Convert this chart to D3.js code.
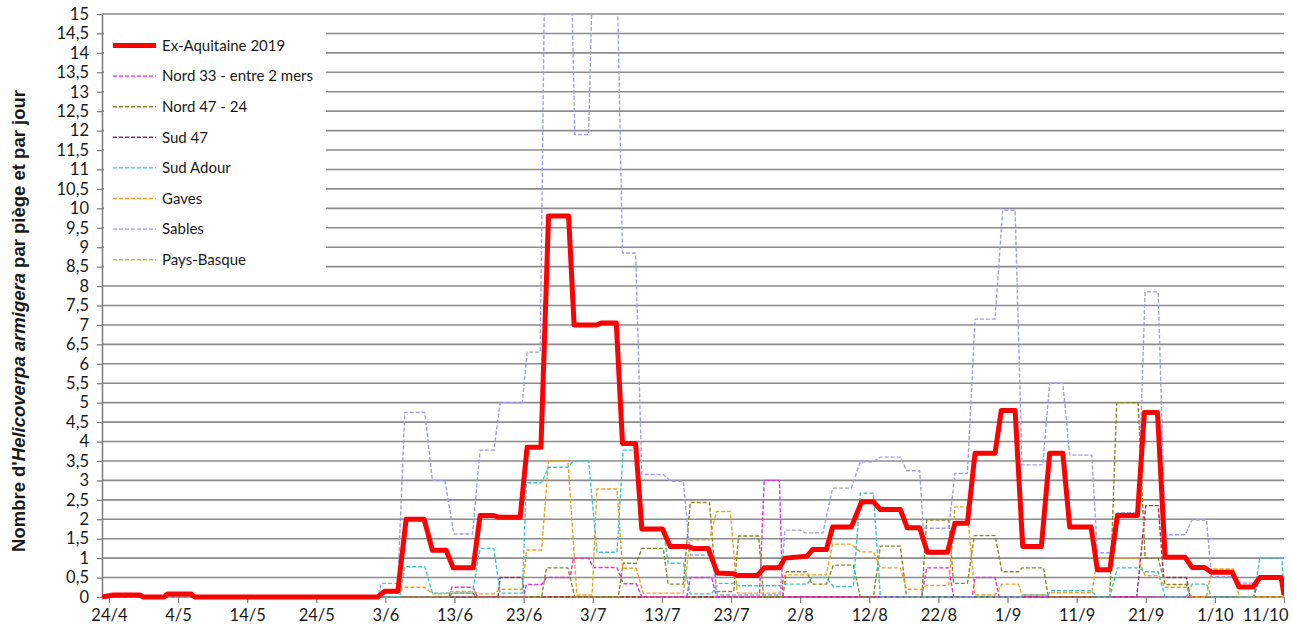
<!DOCTYPE html>
<meta charset="utf-8">
<style>

  body {
    margin: 0;
    background: #fff;
  }

  text {
    font-family: Lato, "Open Sans", sans-serif;
    fill: #1a1a1a;
  }

  .grid line {
    stroke: #8c8c8c;
    stroke-width: 1.6px;
  }

  .series {
    fill: none;
    stroke-width: 1.4px;
    stroke-dasharray: 4 2;
    stroke-linejoin: round;
  }

  .main {
    fill: none;
    stroke: #ff0000;
    stroke-width: 5px;
    stroke-linejoin: round;
  }

</style>
<body>
<script src="https://d3js.org/d3.v7.min.js"></script>
<script>

// x values are days counted from 24/4
var xTickDays = [0, 10, 20, 30, 40, 50, 60, 70, 80, 90, 100, 110, 120, 130, 140, 150, 160, 170];
var xTickLabels = ["24/4", "4/5", "14/5", "24/5", "3/6", "13/6", "23/6", "3/7", "13/7", "23/7",
                   "2/8", "12/8", "22/8", "1/9", "11/9", "21/9", "1/10", "11/10"];
var yTickValues = [0, 0.5, 1, 1.5, 2, 2.5, 3, 3.5, 4, 4.5, 5, 5.5, 6, 6.5, 7, 7.5,
                   8, 8.5, 9, 9.5, 10, 10.5, 11, 11.5, 12, 12.5, 13, 13.5, 14, 14.5, 15];

var seriesNames = ["Ex-Aquitaine 2019", "Nord 33 - entre 2 mers", "Nord 47 - 24", "Sud 47",
                   "Sud Adour", "Gaves", "Sables", "Pays-Basque"];

var exAquitaine = [[-1,0],[0.6,0.05],[4.5,0.05],[5,0],[8,0],[8.5,0.08],[11.9,0.08],[12.4,0],
  [38.9,0],[39.9,0.15],[41.8,0.15],[43,2.0],[45.6,2.0],[46.8,1.2],[48.8,1.2],[49.8,0.75],
  [52.7,0.75],[53.7,2.1],[55.6,2.1],[56.5,2.05],[59.5,2.05],[60.5,3.85],[62.5,3.85],[63.6,9.8],
  [66.5,9.8],[67.3,7.0],[70.6,7.0],[71.2,7.05],[73.4,7.05],[74.3,3.95],[76.2,3.95],[77.1,1.75],
  [80.1,1.75],[81.2,1.3],[83.8,1.3],[84.5,1.25],[86.7,1.25],[88,0.62],[90.4,0.6],[90.9,0.55],
  [93.8,0.55],[94.8,0.75],[97,0.75],[97.8,1.0],[101,1.05],[101.8,1.22],[103.8,1.22],
  [104.7,1.8],[107.4,1.8],[108.9,2.45],[110.6,2.45],[111.6,2.25],[114.5,2.25],[115.5,1.78],
  [117.3,1.78],[118.4,1.15],[121.3,1.15],[122.4,1.9],[124.2,1.9],[125.3,3.7],[128.2,3.7],
  [129.1,4.8],[131.1,4.8],[132.2,1.3],[134.9,1.3],[136.1,3.7],[138,3.7],[139,1.8],
  [142.1,1.8],[143,0.7],[144.8,0.7],[145.9,2.1],[148.8,2.1],[149.8,4.75],[151.7,4.75],
  [152.8,1.02],[155.7,1.02],[156.7,0.76],[158.5,0.76],[159.5,0.64],[162.5,0.64],[163.5,0.26],
  [165.5,0.26],[166.5,0.5],[169.6,0.5],[170,0.05]];

var nord33 = [[-1,0],[49.2,0],[49.6,0.25],[52.7,0.25],[53.3,0],[60,0],[60.4,0.32],[62.6,0.32],
  [63.3,0.5],[66.7,0.5],[67.2,1.0],[69.4,1.0],[70.1,0.76],[73.5,0.76],[74.4,0.34],[76.3,0.34],
  [77.1,0],[83.6,0],[84.1,0.5],[87.2,0.5],[87.9,0],[94.1,0],[94.8,3.0],[97,3.0],[97.5,0],
  [117.6,0],[118.3,0.75],[121.5,0.75],[122.2,0],[124.9,0],[125.3,0.5],[128.2,0.5],[128.8,0],
  [170,0]];

var nord47 = [[-1,0],[49.2,0],[49.7,0.1],[52.7,0.1],[53.1,0],[62.6,0],[63.3,0.75],[66.4,0.75],
  [67.4,0],[73.7,0],[74.4,0.87],[76.3,0.87],[77.1,1.25],[80.2,1.25],[80.9,0.33],[83.1,0.33],
  [84.1,2.43],[86.9,2.43],[87.9,0.14],[90.4,0.14],[91.1,1.57],[94,1.57],[94.7,0],[97.5,0],
  [98,0.65],[101,0.65],[101.7,0.33],[103.8,0.33],[104.8,0.82],[107.7,0.82],[108.7,0],
  [110.6,0],[111.6,1.31],[114.5,1.31],[115.4,0],[117.6,0],[118.3,1.98],[121.5,1.98],
  [122.2,0.35],[124.2,0.35],[125.2,1.58],[128.2,1.58],[129.2,0.65],[131.6,0.65],[132.1,0.75],
  [135.2,0.75],[135.9,0],[144.8,0],[145.8,5.0],[148.9,5.0],[149.9,1.0],[151.8,1.0],
  [152.8,0.32],[155.9,0.32],[156.4,0],[170,0]];

var sud47 = [[-1,0],[56.3,0],[56.6,0.5],[59.8,0.5],[60.2,0],[148.7,0],[150,2.35],[151.8,2.35],
  [152.6,0.5],[155.9,0.5],[156.4,0],[165.6,0],[166.5,0.5],[169.7,0.5],[170,0]];

var sudAdour = [[-1,0],[42.1,0],[42.8,0.78],[45.7,0.78],[46.8,0.1],[52.6,0.1],[53.7,1.25],
  [55.7,1.25],[56.6,0.1],[59.8,0.1],[60.4,2.94],[62.6,2.94],[63.6,3.34],[66.4,3.34],
  [67.2,3.5],[69.4,3.5],[70.6,1.15],[73.5,1.15],[74.4,3.78],[76.1,3.78],[77.1,1.75],
  [80.2,1.75],[80.9,0.87],[83.1,0.87],[84.1,0.08],[87.2,0.08],[88.2,0.35],[90.4,0.35],
  [91.1,0.29],[97.1,0.29],[98,0.33],[101,0.33],[101.7,0.5],[103.8,0.5],[104.8,0.27],
  [107.7,0.27],[108.7,2.67],[110.6,2.67],[111.6,0],[131.9,0],[132.2,0.05],[135.9,0.05],
  [136.2,0.16],[142.1,0.16],[143,0],[144.8,0],[145.9,0.75],[148.9,0.75],[149.9,0.65],
  [151.8,0.65],[152.8,0],[155.9,0],[156.7,0.33],[158.8,0.33],[159.5,0],[165.6,0],
  [166.5,1.0],[169.7,1.0],[170,0]];

var gaves = [[-1,0],[20.7,0],[21.2,0.03],[24.6,0.03],[25.1,0],[38.9,0],[39.9,0.1],[41.8,0.1],
  [42.8,0.25],[45.7,0.25],[46.8,0.08],[48.6,0.08],[49.6,0.14],[52.8,0.14],[53.7,0.08],
  [55.7,0.08],[56.6,0.2],[59.8,0.2],[60.4,1.21],[62.6,1.21],[63.6,3.5],[66.4,3.5],
  [67.7,0.05],[69.9,0.05],[70.6,2.78],[73.5,2.78],[74.3,0.74],[76.3,0.74],[77.3,0.1],
  [83.1,0.1],[84.1,1.47],[86.9,1.47],[87.9,2.2],[89.9,2.2],[90.9,0.1],[97.1,0.1],
  [97.8,0.57],[103.8,0.57],[104.7,1.36],[107.4,1.36],[108.7,1.16],[110.6,1.16],
  [111.6,0.75],[114.5,0.75],[115.4,0.2],[117.6,0.2],[118.3,0.3],[121.5,0.3],[122.4,2.32],
  [124.1,2.32],[125.3,0.05],[128.2,0.05],[129.2,0.33],[131.6,0.33],[132.1,0.05],[135.7,0.05],
  [136.2,0.11],[142.2,0.11],[143,1.0],[148.9,1.0],[149.9,0.55],[151.8,0.55],[152.8,0.25],
  [155.9,0.25],[156.7,0],[158.8,0],[159.5,0.72],[162.7,0.72],[163.5,0],[170,0]];

var sables = [[-1,0],[8.5,0],[9,0.1],[11.9,0.1],[12.4,0],[38.9,0],[39.4,0.35],[41.8,0.35],
  [42.8,4.75],[45.7,4.75],[46.8,3.0],[48.6,3.0],[49.9,1.62],[52.6,1.62],[53.7,3.78],
  [55.7,3.78],[56.6,5.0],[59.8,5.0],[60.5,6.3],[62.4,6.3],[63.1,17],[66.8,17],[67.4,11.9],
  [69.4,11.9],[70.1,17],[73.4,17],[74.3,8.85],[76.2,8.85],[77.1,3.15],[80.2,3.15],
  [81.3,2.98],[83.1,2.98],[84.1,1.08],[87.2,1.08],[88,0.05],[97.1,0.05],[97.8,1.72],
  [100,1.72],[100.7,1.65],[103.3,1.65],[104.7,2.8],[107.4,2.8],[108.7,3.48],[110.6,3.48],
  [111.6,3.6],[114.5,3.6],[115.4,3.25],[117.3,3.25],[117.8,1.77],[121.5,1.77],[122.4,3.18],
  [124.2,3.18],[125.3,7.15],[128.2,7.15],[129.3,9.95],[131.1,9.95],[132.1,3.4],[135.1,3.4],
  [136.1,5.5],[138,5.5],[139,3.65],[142.2,3.65],[143,1.14],[144.8,1.14],[145.9,2.17],
  [148.9,2.17],[149.9,7.85],[151.8,7.85],[152.8,1.6],[155.7,1.6],[156.7,1.98],[158.8,1.98],
  [159.5,0.52],[162.5,0.52],[163.5,0.36],[165.5,0.36],[166.5,0.5],[169.7,0.5],[170,0.05]];

var paysBasque = [[-1,0],[170,0]];

var seriesValues = [exAquitaine, nord33, nord47, sud47, sudAdour, gaves, sables, paysBasque];

var colors = ["#ff0000", "#e62ee6", "#8a8a22", "#a32a5c", "#3cc8c8", "#f5a01e", "#9e9ef0", "#b4c040"];

var width = 1292,
    height = 632;

var plot = {left: 102, right: 1284, top: 14, bottom: 597};

var svg = d3.select("body").append("svg")
  .attr("width", width)
  .attr("height", height);

var x = d3.scaleLinear()
  .domain([-1, 170])
  .range([plot.left, plot.right]);

var y = d3.scaleLinear()
  .domain([0, 15])
  .range([plot.bottom, plot.top]);

var fmt = function(v) { return String(v).replace(".", ","); };

// horizontal grid
svg.append("g")
  .attr("class", "grid")
  .selectAll("line")
  .data(yTickValues)
  .enter()
  .append("line")
    .attr("x1", plot.left)
    .attr("x2", plot.right)
    .attr("y1", function(d) { return y(d); })
    .attr("y2", function(d) { return y(d); });

// y axis
var yAxis = d3.axisLeft(y)
  .tickValues(yTickValues)
  .tickFormat(fmt)
  .tickSizeInner(5)
  .tickSizeOuter(0)
  .tickPadding(8);

var gy = svg.append("g")
  .attr("transform", "translate(" + plot.left + ",0)")
  .call(yAxis);

gy.select(".domain").attr("stroke", "#7a7a7a").attr("stroke-width", 1.5);
gy.selectAll(".tick line").attr("stroke", "#7a7a7a").attr("stroke-width", 1.2);
gy.selectAll(".tick text")
  .style("font-size", "16.5px")
  .attr("fill", "#1a1a1a");

// x axis
var xAxis = d3.axisBottom(x)
  .tickValues(xTickDays)
  .tickFormat(function(d, i) { return xTickLabels[i]; })
  .tickSizeInner(6)
  .tickSizeOuter(0)
  .tickPadding(6);

var gx = svg.append("g")
  .attr("transform", "translate(0," + plot.bottom + ")")
  .call(xAxis);

gx.select(".domain").attr("d", "M" + plot.left + ",0H" + plot.right)
  .attr("stroke", "#7a7a7a").attr("stroke-width", 1.5);
gx.selectAll(".tick line").attr("stroke", "#7a7a7a").attr("stroke-width", 1.2);
gx.selectAll(".tick text")
  .style("font-size", "16.5px")
  .attr("fill", "#1a1a1a");

// last label is pushed inside the frame, as the spreadsheet does
gx.selectAll(".tick text")
  .filter(function(d, i) { return i === xTickDays.length - 1; })
  .attr("text-anchor", "end")
  .attr("x", 4);

// lines
svg.append("clipPath")
  .attr("id", "clip")
  .append("rect")
    .attr("x", plot.left)
    .attr("y", plot.top)
    .attr("width", plot.right - plot.left)
    .attr("height", plot.bottom - plot.top + 4);

var line = d3.line()
  .x(function(d) { return x(d[0]); })
  .y(function(d) { return y(d[1]); });

var lines = svg.append("g").attr("clip-path", "url(#clip)");

var order = [7, 3, 1, 2, 5, 4, 6];

lines.selectAll("path.series")
  .data(order)
  .enter()
  .append("path")
    .attr("class", "series")
    .attr("stroke", function(i) { return colors[i]; })
    .attr("d", function(i) { return line(seriesValues[i]); });

lines.append("path")
  .attr("class", "main")
  .attr("d", line(seriesValues[0]));

// legend
var legend = svg.append("g");

legend.append("rect")
  .attr("x", 104)
  .attr("y", 19)
  .attr("width", 222)
  .attr("height", 260)
  .attr("fill", "#fff");

var entry = legend.selectAll("g.entry")
  .data(seriesNames)
  .enter()
  .append("g")
    .attr("class", "entry")
    .attr("transform", function(d, i) { return "translate(113," + (45.5 + i * 30.6) + ")"; });

entry.append("line")
  .attr("x1", 0)
  .attr("x2", 43)
  .attr("stroke", function(d, i) { return colors[i]; })
  .attr("stroke-width", function(d, i) { return i === 0 ? 5 : 1.4; })
  .attr("stroke-dasharray", function(d, i) { return i === 0 ? null : "4 2"; });

entry.append("text")
  .attr("x", 49)
  .attr("dy", "0.35em")
  .style("font-size", "15px")
  .text(function(d) { return d; });

// y title
var title = svg.append("text")
  .attr("transform", "translate(25,321) rotate(-90)")
  .attr("text-anchor", "middle")
  .style("font-family", "'Liberation Sans', Arial, sans-serif")
  .style("font-weight", "bold")
  .style("font-size", "18.5px");

title.append("tspan").text("Nombre d'");
title.append("tspan").style("font-style", "italic").text("Helicoverpa armigera");
title.append("tspan").text(" par piège et par jour");

</script>
